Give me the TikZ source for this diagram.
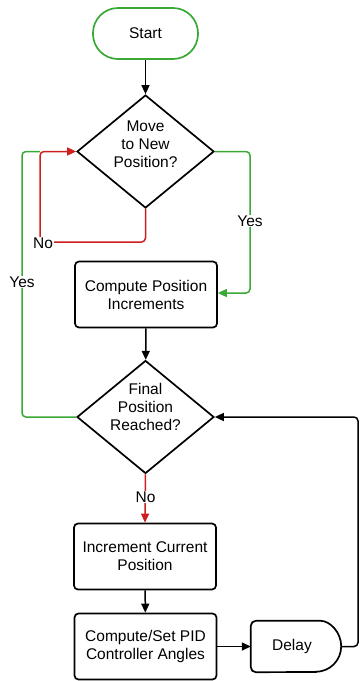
\documentclass[tikz,border=0pt]{standalone}
\usepackage{fontspec}
\setmainfont{Liberation Sans}
\usetikzlibrary{arrows.meta,shapes.geometric}
\definecolor{flowgreen}{RGB}{58,168,52}
\definecolor{flowred}{RGB}{204,32,32}
\begin{document}
\begin{tikzpicture}[x=1pt,y=-1pt,
  txt/.style={font=\fontsize{15.5}{18}\selectfont, align=center},
  terminal/.style={draw=flowgreen, line width=1.7pt, rounded corners=25pt,
    minimum width=105pt, minimum height=51pt, inner sep=0pt, txt},
  process/.style={draw, line width=1.7pt, rounded corners=4pt,
    minimum width=142pt, minimum height=66pt, inner sep=0pt, txt},
  decision/.style={draw, line width=1.7pt, diamond, aspect=1.21,
    minimum width=137pt, minimum height=113pt, inner sep=0pt},
  tag/.style={txt, fill=white, inner sep=1pt},
  conn/.style={line width=1.5pt, rounded corners=4pt},
  tip/.style={-{Triangle[length=9pt,width=8pt]}},
]
\useasboundingbox (0,0) rectangle (361,681);

% shapes
\node[terminal] (start) at (145.5,33.5) {Start};
\node[decision] (d1) at (145.5,151.5) {};
\node[txt] (d1t) at (145.5,144.5) {Move\\to New\\Position?};
\node[process] (b1) at (146,294.5) {Compute Position\\Increments};
\node[decision] (d2) at (145.5,417) {};
\node[txt] (d2t) at (145.5,406.5) {Final\\Position\\Reached?};
\node[process] (b2) at (145,556.5) {Increment Current\\Position};
\node[process] (b3) at (145.5,646.5) {Compute/Set PID\\Controller Angles};
\node[minimum width=90pt, minimum height=51pt, inner sep=0pt] (delay) at (296,646.5) {};
% delay symbol: flat left side, semicircular right side
\draw[line width=1.7pt, rounded corners=5pt]
  (delay.east) ++(-25.5,25.5) -- (delay.south west) -- (delay.north west)
  -- ([xshift=-25.5pt]delay.north east) [sharp corners] arc[start angle=90, end angle=-90, radius=25.5pt]
  -- cycle;
\node[txt] (delayt) at (292,646.5) {Delay};

% corners of the loops
\coordinate (nobot) at (145.5,242);
\coordinate (noleft) at (40,242);
\coordinate (notop) at (40,151.5);
\coordinate (yesleft) at (22,417);
\coordinate (yestop) at (22,151.5);
\coordinate (yesright) at (250,151.5);
\coordinate (yesdown) at (250,293);
\coordinate (delayout) at (358,646.5);
\coordinate (delayup) at (358,417);

% connectors
\draw[conn, tip] (start) -- (d1);
\draw[conn, flowgreen] (d2.west) -- (yesleft) -- (yestop) -- (notop);
\draw[conn, flowred, tip] (d1.south) -- (nobot) -- (noleft) -- (notop) -- (d1.west);
\draw[conn, flowgreen, tip] (d1.east) -- (yesright) -- (yesdown) -- (b1.east |- yesdown);
\draw[conn, tip] (b1) -- (d2);
\draw[conn, flowred, tip] (d2.south) -- (b2.north);
\draw[conn, tip] (b2) -- (b3);
\draw[conn, tip] (b3.east) -- (delay.west);
\draw[conn, tip] (delay.east) -- (delayout) -- (delayup) -- (d2.east);

% branch labels
\node[tag] (nol) at (43,243) {No};
\node[tag] (yesl) at (22,282) {Yes};
\node[tag] (yesr) at (250,221) {Yes};
\node[tag] (no2) at (145.5,497) {No};
\end{tikzpicture}
\end{document}
